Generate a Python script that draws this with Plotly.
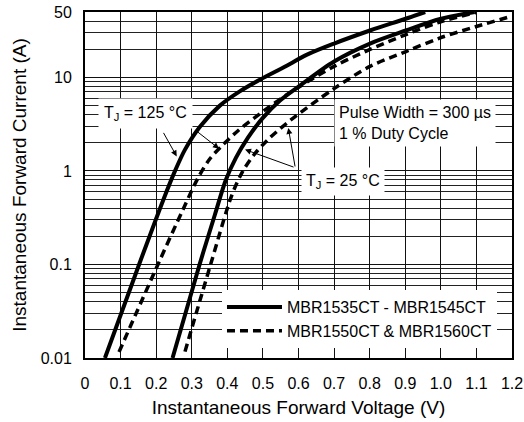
import numpy as np
import plotly.graph_objects as go

# Data (Voltage V, Current A)
v_solid_125 = [0.056, 0.152, 0.22, 0.253, 0.281, 0.323, 0.379, 0.436, 0.492, 0.560, 0.624, 0.70, 0.801, 0.899, 0.956]
i_solid_125 = [0.01, 0.1, 0.49, 1.0, 1.69, 2.97, 4.99, 7.13, 9.46, 12.9, 17.5, 23.0, 31.7, 42.1, 50.0]

v_dash_125 = [0.0956, 0.205, 0.275, 0.318, 0.351, 0.385, 0.43, 0.492, 0.576, 0.70, 0.801, 0.902, 0.998, 1.099]
i_dash_125 = [0.0116, 0.1, 0.384, 0.846, 1.35, 1.86, 2.69, 4.10, 6.87, 13.1, 19.9, 28.7, 39.1, 49.4]

v_solid_25 = [0.246, 0.322, 0.365, 0.396, 0.424, 0.458, 0.498, 0.548, 0.604, 0.70, 0.801, 0.902, 0.998, 1.095]
i_solid_25 = [0.01, 0.1, 0.34, 0.805, 1.38, 2.27, 3.62, 5.65, 8.17, 14.8, 23.0, 31.7, 42.1, 50.0]

v_dash_25 = [0.281, 0.353, 0.413, 0.444, 0.475, 0.514, 0.576, 0.70, 0.801, 0.902, 0.998, 1.102, 1.197]
i_dash_25 = [0.0117, 0.1, 0.556, 1.0, 1.49, 2.16, 3.45, 7.59, 13.1, 18.9, 26.4, 35.2, 44.8]

x_ticks = [0, 0.1, 0.2, 0.3, 0.4, 0.5, 0.6, 0.7, 0.8, 0.9, 1.0, 1.1, 1.2]
x_tick_text = ["0", "0.1", "0.2", "0.3", "0.4", "0.5", "0.6", "0.7", "0.8", "0.9", "1.0", "1.1", "1.2"]
y_ticks = [0.01, 0.1, 1, 10, 50]
y_tick_text = ["0.01", "0.1", "1", "10", "50"]
y_minor = [m * d for d in (0.01, 0.1, 1) for m in range(2, 10)] + [20, 30, 40]

legend_solid = "MBR1535CT - MBR1545CT"
legend_dash = "MBR1550CT & MBR1560CT"

FONT = "Liberation Sans, Arial, Helvetica, sans-serif"

solid = dict(color="black", width=4, shape="spline", smoothing=0.9)
dashed = dict(color="black", width=3.5, dash="8px,5px", shape="spline", smoothing=0.9)

fig = go.Figure()
fig.add_trace(go.Scatter(x=v_solid_125, y=i_solid_125, mode="lines", name=legend_solid, line=solid))
fig.add_trace(go.Scatter(x=v_solid_25, y=i_solid_25, mode="lines", name=legend_solid,
                         showlegend=False, line=solid))
fig.add_trace(go.Scatter(x=v_dash_125, y=i_dash_125, mode="lines", name=legend_dash, line=dashed))
fig.add_trace(go.Scatter(x=v_dash_25, y=i_dash_25, mode="lines", name=legend_dash,
                         showlegend=False, line=dashed))

L = np.log10
ann_font = dict(family=FONT, size=16, color="black")
arrow = dict(text="", showarrow=True, arrowhead=2, arrowsize=1.2, arrowwidth=1, arrowcolor="black")
annotations = [
    dict(x=0.171, y=L(4.1), text="T<sub>J</sub> = 125 °C", showarrow=False, bgcolor="white",
         borderpad=5, font=ann_font),
    dict(x=0.70, y=L(3.28), text="Pulse Width = 300 µs<br>1 % Duty Cycle", showarrow=False,
         xanchor="left", align="left", bgcolor="white", borderpad=4, font=ann_font),
    dict(x=0.725, y=L(0.772), text="T<sub>J</sub> = 25 °C", showarrow=False, bgcolor="white",
         borderpad=4, font=ann_font),
    dict(x=0.2577, y=L(1.43), ax=-14, ay=-25, **arrow),
    dict(x=0.3766, y=L(1.73), ax=-23, ay=-18, **arrow),
    dict(x=0.4497, y=L(1.69), ax=50, ay=18, **arrow),
    dict(x=0.5714, y=L(2.88), ax=7, ay=40, **arrow),
]

fig.update_layout(
    width=524, height=422,
    margin=dict(l=85, r=12, t=12, b=64),
    paper_bgcolor="white", plot_bgcolor="white",
    font=dict(family=FONT, size=16, color="black"),
    annotations=annotations,
    legend=dict(x=0.3208, y=0.1965, xanchor="left", yanchor="top", bgcolor="white",
                font=dict(family=FONT, size=16, color="black"), itemwidth=55,
                tracegroupgap=0),
    xaxis=dict(range=[0, 1.2], tickmode="array", tickvals=x_ticks, ticktext=x_tick_text,
               showgrid=True, gridcolor="#111", gridwidth=1, zeroline=False,
               showline=True, linecolor="black", linewidth=2, mirror=True, automargin=False,
               ticks="", ticklabelstandoff=10, tickfont=dict(family=FONT, size=16),
               title=dict(text="Instantaneous Forward Voltage (V)", standoff=9,
                          font=dict(family=FONT, size=19))),
    yaxis=dict(type="log", range=[-2, L(50)], tickmode="array", tickvals=y_ticks,
               ticktext=y_tick_text, showgrid=True, gridcolor="#111", gridwidth=1,
               zeroline=False, showline=True, linecolor="black", linewidth=2, mirror=True,
               automargin=False,
               ticks="", ticklabelstandoff=8, tickfont=dict(family=FONT, size=16),
               minor=dict(tickmode="array", tickvals=y_minor, showgrid=True,
                          gridcolor="#222", gridwidth=1, ticks=""),
               title=dict(text="Instantaneous Forward Current (A)", standoff=9,
                          font=dict(family=FONT, size=19))),
)

fig.write_html("out.html")
